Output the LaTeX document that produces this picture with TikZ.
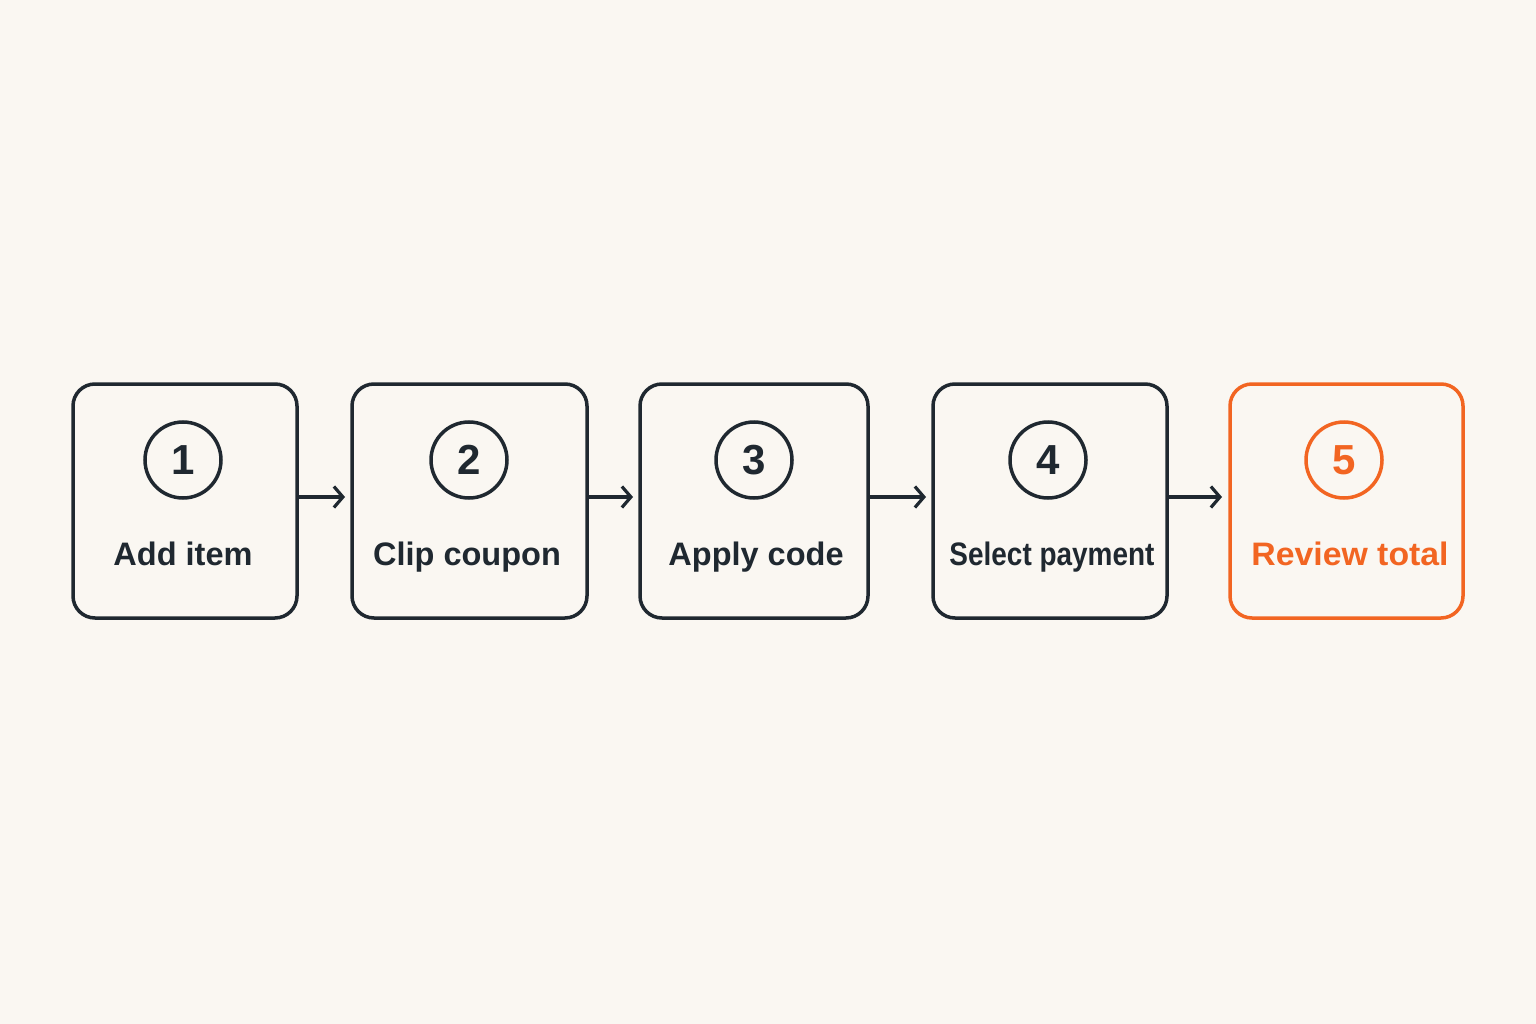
\documentclass[tikz,border=0pt]{standalone}
\usepackage{fontspec}
\setmainfont{Liberation Sans}
\usetikzlibrary{arrows.meta}
\definecolor{bg}{HTML}{FAF7F2}
\definecolor{ink}{HTML}{1F2830}
\definecolor{accent}{HTML}{F26522}
\tikzset{
  stepbox/.style={draw=#1, line width=3.5pt, rounded corners=22pt},
  numcircle/.style={draw=#1, text=#1, circle, line width=3.5pt, minimum size=76pt, inner sep=0pt, font=\bfseries\fontsize{42}{42}\selectfont},
  steplabel/.style={text=#1, anchor=base, inner sep=0pt, font=\bfseries\fontsize{32.5}{33}\selectfont},
  flow/.style={draw=ink, line width=3.2pt, -{Straight Barb[length=9pt,width=21pt,line width=3.2pt]}}
}
\begin{document}
\begin{tikzpicture}[x=1pt,y=-1pt]
\fill[bg] (0,0) rectangle (1536,1024);
\useasboundingbox (0,0) rectangle (1536,1024);
% boxes
\draw[stepbox=ink] (73,384) rectangle (297,618);
\draw[stepbox=ink] (352,384) rectangle (587,618);
\draw[stepbox=ink] (640,384) rectangle (868,618);
\draw[stepbox=ink] (933,384) rectangle (1167,618);
\draw[stepbox=accent] (1230,384) rectangle (1463,618);
\coordinate (b1) at (297,497);
\coordinate (b2l) at (345,497);
\coordinate (b2) at (587,497);
\coordinate (b3l) at (633,497);
\coordinate (b3) at (868,497);
\coordinate (b4l) at (926,497);
\coordinate (b4) at (1167,497);
\coordinate (b5l) at (1222,497);
% circles
\node[numcircle=ink] (n1) at (183,460) {1};
\node[numcircle=ink] (n2) at (469,460) {2};
\node[numcircle=ink] (n3) at (754,460) {3};
\node[numcircle=ink] (n4) at (1048,460) {4};
\node[numcircle=accent] (n5) at (1344,460) {5};
% labels
\node[steplabel=ink] (t1) at (183,565) {Add item};
\node[steplabel=ink] (t2) at (467,565) {Clip coupon};
\node[steplabel=ink] (t3) at (756,565) {Apply code};
\node[steplabel=ink] (t4) at (1052,565) {\scalebox{0.86}[1]{Select payment}};
\node[steplabel=accent] (t5) at (1350,565) {\scalebox{1.04}[1]{Review total}};
% arrows
\draw[flow] (b1) -- (b2l);
\draw[flow] (b2) -- (b3l);
\draw[flow] (b3) -- (b4l);
\draw[flow] (b4) -- (b5l);
\end{tikzpicture}
\end{document}
